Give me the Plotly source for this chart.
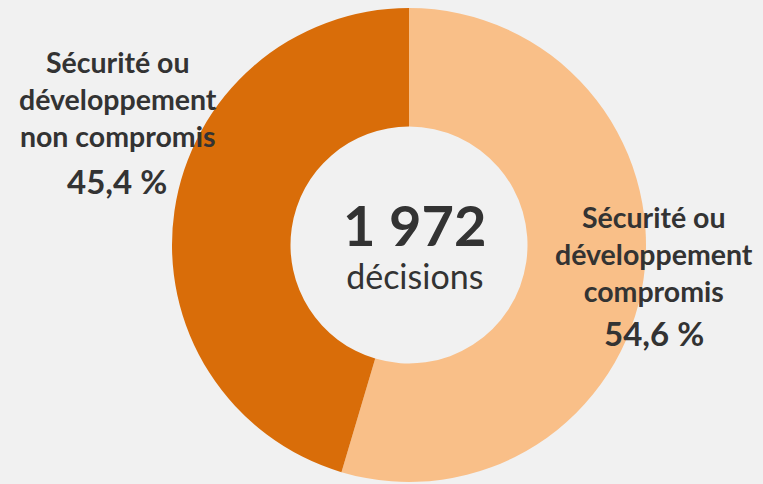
import plotly.graph_objects as go

labels = ["Sécurité ou développement compromis", "Sécurité ou développement non compromis"]
values = [54.6, 45.4]
colors = ["#F9BF88", "#D96D09"]
total_text = "1 972"
total_sub = "décisions"

W, H = 763, 484
cx, cy, r = 409, 245, 237

fig = go.Figure(go.Pie(
    labels=labels, values=values, sort=False, direction="clockwise", rotation=0,
    hole=0.5, marker=dict(colors=colors, line=dict(width=0)),
    textinfo="none", hoverinfo="label+percent", showlegend=False,
    domain=dict(x=[(cx - r) / W, (cx + r) / W], y=[(H - cy - r) / H, (H - cy + r) / H]),
))

def pct(v):
    return f"{v:.1f}".replace(".", ",") + " %"

txt = "#333333"
font = "Lato"
ann = []
def add(x, y, text, size):
    ann.append(dict(x=x / W, y=1 - y / H, xref="paper", yref="paper", text=text,
                    showarrow=False, xanchor="center", yanchor="middle", align="center",
                    font=dict(family=font, size=size, color=txt)))

add(118, 99, "<b>Sécurité ou<br>développement<br>non compromis</b>", 28.5)
add(117, 181, "<b>" + pct(values[1]) + "</b>", 33)
add(654, 254, "<b>Sécurité ou<br>développement<br>compromis</b>", 28.5)
add(654, 333, "<b>" + pct(values[0]) + "</b>", 33)
add(415, 243, "<span style='font-size:56px'><b>" + total_text + "</b></span><br><span style='font-size:34px'>" + total_sub + "</span>", 33)

fig.update_layout(width=W, height=H, margin=dict(l=0, r=0, t=0, b=0),
                  paper_bgcolor="#F1F1F1", plot_bgcolor="#F1F1F1", annotations=ann)
fig.write_html("out.html", config={"displayModeBar": False},
               post_script="document.body.style.margin='0';document.body.style.background='#F1F1F1';")
